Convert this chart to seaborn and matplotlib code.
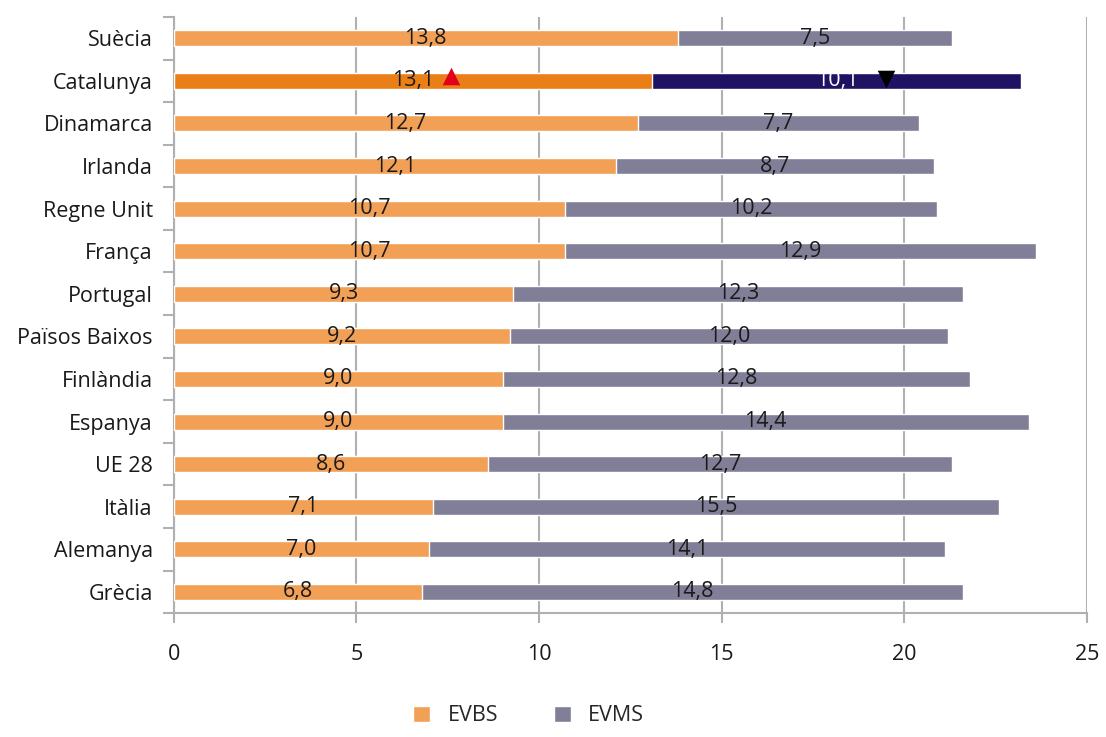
import numpy as np
import pandas as pd
import matplotlib
matplotlib.use("Agg")
import matplotlib.pyplot as plt
from matplotlib.patches import Patch
import seaborn as sns

countries = ["Suècia", "Catalunya", "Dinamarca", "Irlanda", "Regne Unit", "França",
             "Portugal", "Països Baixos", "Finlàndia", "Espanya", "UE 28", "Itàlia",
             "Alemanya", "Grècia"]
evbs = [13.8, 13.1, 12.7, 12.1, 10.7, 10.7, 9.3, 9.2, 9.0, 9.0, 8.6, 7.1, 7.0, 6.8]
evms = [7.5, 10.1, 7.7, 8.7, 10.2, 12.9, 12.3, 12.0, 12.8, 14.4, 12.7, 15.5, 14.1, 14.8]
# Catalunya reference markers (EVBS up, EVMS down)
cat_marker_evbs = 7.6
cat_marker_evms = 19.5
x_ticks = [0, 5, 10, 15, 20, 25]

highlight = "Catalunya"
c_evbs, c_evms = "#F1A055", "#817E97"
c_evbs_hl, c_evms_hl = "#EB7F17", "#201263"

sns.set_theme(style="white")
plt.rcParams["font.family"] = ["Open Sans", "DejaVu Sans"]

df = pd.DataFrame({"country": countries, "evbs": evbs, "evms": evms})
df["total"] = df["evbs"] + df["evms"]

fig = plt.figure(figsize=(11.06, 7.37), dpi=100)
ax = fig.add_axes([0.157, 0.168, 0.826, 0.809])

pal_total = {c: (c_evms_hl if c == highlight else c_evms) for c in countries}
pal_base = {c: (c_evbs_hl if c == highlight else c_evbs) for c in countries}

sns.barplot(data=df, x="total", y="country", hue="country", palette=pal_total,
            order=countries, width=0.375, legend=False, ax=ax, saturation=1, zorder=3)
sns.barplot(data=df, x="evbs", y="country", hue="country", palette=pal_base,
            order=countries, width=0.375, legend=False, ax=ax, saturation=1, zorder=3)

fs = 15.5
txt = "#1A1A1A"

# value labels centred on each segment
for i, row in df.iterrows():
    ax.text(row["evbs"] / 2, i, f"{row['evbs']:.1f}".replace(".", ","),
            ha="center", va="center", fontsize=fs, color=txt, zorder=5)
    col = "white" if row["country"] == highlight else txt
    ax.text(row["evbs"] + row["evms"] / 2, i, f"{row['evms']:.1f}".replace(".", ","),
            ha="center", va="center", fontsize=fs, color=col, zorder=5)

ci = countries.index(highlight)
ax.scatter([cat_marker_evbs], [ci - 0.12], marker="^", s=160, color="#E3001B", zorder=6, linewidths=0)
ax.scatter([cat_marker_evms], [ci - 0.05], marker="v", s=160, color="black", zorder=6, linewidths=0)

ax.set_xlim(0, 25)
ax.set_ylim(len(countries) - 0.5, -0.5)
ax.set_xticks(x_ticks)
ax.set_xticklabels([str(t) for t in x_ticks])
ax.set_xlabel("")
ax.set_ylabel("")

grid_col = "#B0B0B0"
ax.grid(axis="x", color=grid_col, linewidth=1.5, zorder=0)
ax.set_axisbelow(True)
for s in ["top", "right"]:
    ax.spines[s].set_visible(False)
for s in ["left", "bottom"]:
    ax.spines[s].set_color(grid_col)
    ax.spines[s].set_linewidth(1.5)

ax.set_yticks(np.arange(-0.5, len(countries)), minor=True)
ax.tick_params(axis="y", which="major", length=0, pad=15, labelsize=fs, labelcolor=txt)
ax.tick_params(axis="y", which="minor", length=8, width=1.5, color=grid_col, direction="out", left=True)
ax.tick_params(axis="x", which="major", length=7, width=1.5, color=grid_col, direction="out",
               bottom=True, pad=15, labelsize=fs, labelcolor=txt)

handles = [Patch(facecolor=c_evbs, label="EVBS"), Patch(facecolor=c_evms, label="EVMS")]
fig.legend(handles=handles, loc="lower center", bbox_to_anchor=(0.478, -0.012), ncol=2,
           frameon=False, fontsize=fs, handlelength=0.8, handleheight=0.8,
           columnspacing=2.6, handletextpad=0.8)

fig.savefig("out.png", dpi=100)
